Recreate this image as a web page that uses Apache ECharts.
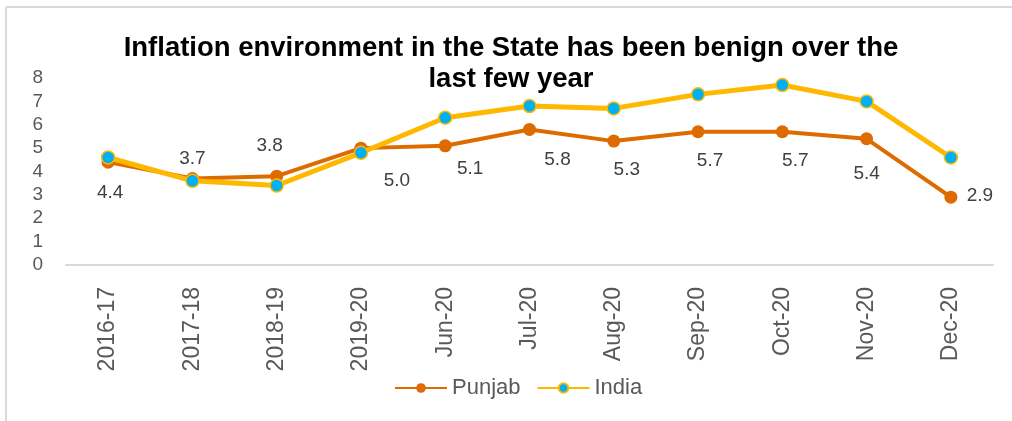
<!DOCTYPE html>
<html>
<head>
<meta charset="utf-8">
<script src="https://cdn.jsdelivr.net/npm/echarts@6/dist/echarts.min.js"></script>
<style>html,body{margin:0;padding:0;background:#fff}#c{width:1012px;height:421px}</style>
</head>
<body>
<div id="c"></div>
<script>
const categories = ['2016-17','2017-18','2018-19','2019-20','Jun-20','Jul-20','Aug-20','Sep-20','Oct-20','Nov-20','Dec-20'];
const punjab = [4.4, 3.7, 3.8, 5.0, 5.1, 5.8, 5.3, 5.7, 5.7, 5.4, 2.9];
const india = [4.6, 3.6, 3.4, 4.8, 6.3, 6.8, 6.7, 7.3, 7.7, 7.0, 4.6];
const yTicks = [0, 1, 2, 3, 4, 5, 6, 7, 8];

// label offsets (style only)
const labelOffsets = [[2,31],[0,-20],[-7,-30],[36,33],[25,23],[28,30],[13,29],[12,29],[13,29],[0,35],[29,-1]];

const FONT = 'Liberation Sans, Arial, sans-serif';
const chart = echarts.init(document.getElementById('c'), null, {renderer: 'canvas'});
chart.setOption({
  animation: false,
  backgroundColor: '#fff',
  graphic: [
    {type: 'line', shape: {x1: 6, y1: 7, x2: 1012, y2: 7}, style: {stroke: '#d9d9d9', lineWidth: 2}, silent: true},
    {type: 'line', shape: {x1: 6, y1: 7, x2: 6, y2: 421}, style: {stroke: '#d9d9d9', lineWidth: 2}, silent: true}
  ],
  title: {
    text: 'Inflation environment in the State has been benign over the\nlast few year',
    left: 506, top: 28, textAlign: 'center',
    textStyle: {fontFamily: FONT, fontSize: 27.5, fontWeight: 'bold', color: '#000', lineHeight: 31}
  },
  legend: {
    left: 389, top: 372,
    itemWidth: 52, itemHeight: 12, itemGap: 16,
    textStyle: {fontFamily: FONT, fontSize: 22, color: '#595959'},
    data: ['Punjab', 'India']
  },
  grid: {left: 66, right: 19, top: 78, bottom: 156, containLabel: false},
  xAxis: {
    type: 'category', data: categories, boundaryGap: true,
    axisLine: {lineStyle: {color: '#d9d9d9', width: 2}},
    axisTick: {show: false},
    axisLabel: {rotate: 90, margin: 22, fontFamily: FONT, fontSize: 23, color: '#595959'}
  },
  yAxis: {
    type: 'value', min: yTicks[0], max: yTicks[yTicks.length - 1], interval: 1,
    axisLine: {show: false}, axisTick: {show: false}, splitLine: {show: false},
    axisLabel: {margin: 23, fontFamily: FONT, fontSize: 19, color: '#595959'}
  },
  series: [
    {
      name: 'Punjab', type: 'line', z: 2,
      data: punjab.map((v, i) => ({value: v, label: {offset: labelOffsets[i]}})),
      symbol: 'circle', symbolSize: 13,
      lineStyle: {color: '#DE6B00', width: 4},
      itemStyle: {color: '#DE6B00'},
      label: {show: true, position: 'inside', formatter: p => p.value.toFixed(1),
        fontFamily: FONT, fontSize: 19, color: '#404040'}
    },
    {
      name: 'India', type: 'line', z: 3,
      data: india,
      symbol: 'circle', symbolSize: 13,
      lineStyle: {color: '#FFB800', width: 5},
      itemStyle: {color: '#00B0F0', borderColor: '#FFB800', borderWidth: 1.5}
    }
  ]
});
</script>
</body>
</html>
